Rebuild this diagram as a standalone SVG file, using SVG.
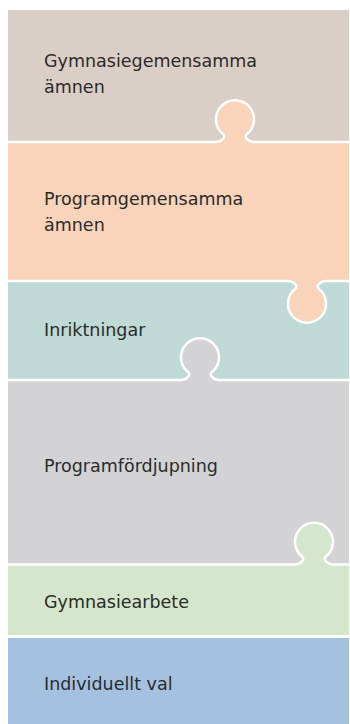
<svg xmlns="http://www.w3.org/2000/svg" width="350" height="724" viewBox="0 0 350 724">
<style>
text{font-family:"DejaVu Sans","Liberation Sans",sans-serif;font-size:17.5px;fill:#2b2b2b}
.seam{fill:none;stroke:#ffffff;stroke-width:2.5;stroke-linejoin:round}
</style>
<rect width="350" height="724" fill="#ffffff"/>
<g id="gymnasiegemensamma">
<rect x="8" y="10" width="341" height="132" fill="#DACFC6"/>
<text x="44" y="67">Gymnasiegemensamma</text>
<text x="44" y="93">ämnen</text>
</g>
<g id="inriktningar">
<rect x="8" y="281" width="341" height="99" fill="#BFDAD6"/>
<text x="44" y="336">Inriktningar</text>
</g>
<g id="programgemensamma">
<path d="M8,142 H216 C221,142 226.875,137.16 223,134 A19,19 0 1 1 247,134 C243.125,137.16 249,142 254,142 H349 V281 H326 C321,281 315.125,285.84 319,289 A19,19 0 1 1 295,289 C298.875,285.84 293,281 288,281 H8 Z" fill="#F9D3BA"/>
<text x="44" y="205">Programgemensamma</text>
<text x="44" y="231">ämnen</text>
</g>
<g id="programfordjupning">
<path d="M8,380 H181 C186,380 191.875,375.16 188,372 A19,19 0 1 1 212,372 C208.125,375.16 214,380 219,380 H349 V564.5 H8 Z" fill="#D3D3D5"/>
<text x="44" y="472">Programfördjupning</text>
</g>
<g id="gymnasiearbete">
<path d="M8,564.5 H295 C300,564.5 305.875,559.66 302,556.5 A19,19 0 1 1 326,556.5 C322.125,559.66 328,564.5 333,564.5 H349 V636.5 H8 Z" fill="#D4E6CB"/>
<text x="44" y="608">Gymnasiearbete</text>
</g>
<g id="individuellt-val">
<rect x="8" y="636.5" width="341" height="87.5" fill="#A4C2E0"/>
<text x="44" y="690">Individuellt val</text>
</g>
<g id="connectors">
<path class="seam" d="M8,142 H216 C221,142 226.875,137.16 223,134 A19,19 0 1 1 247,134 C243.125,137.16 249,142 254,142 H349"/>
<path class="seam" d="M8,281 H288 C293,281 298.875,285.84 295,289 A19,19 0 1 0 319,289 C315.125,285.84 321,281 326,281 H349"/>
<path class="seam" d="M8,380 H181 C186,380 191.875,375.16 188,372 A19,19 0 1 1 212,372 C208.125,375.16 214,380 219,380 H349"/>
<path class="seam" d="M8,564.5 H295 C300,564.5 305.875,559.66 302,556.5 A19,19 0 1 1 326,556.5 C322.125,559.66 328,564.5 333,564.5 H349"/>
<path class="seam" style="stroke-width:3" d="M8,636.5 H349"/>
</g>
</svg>
